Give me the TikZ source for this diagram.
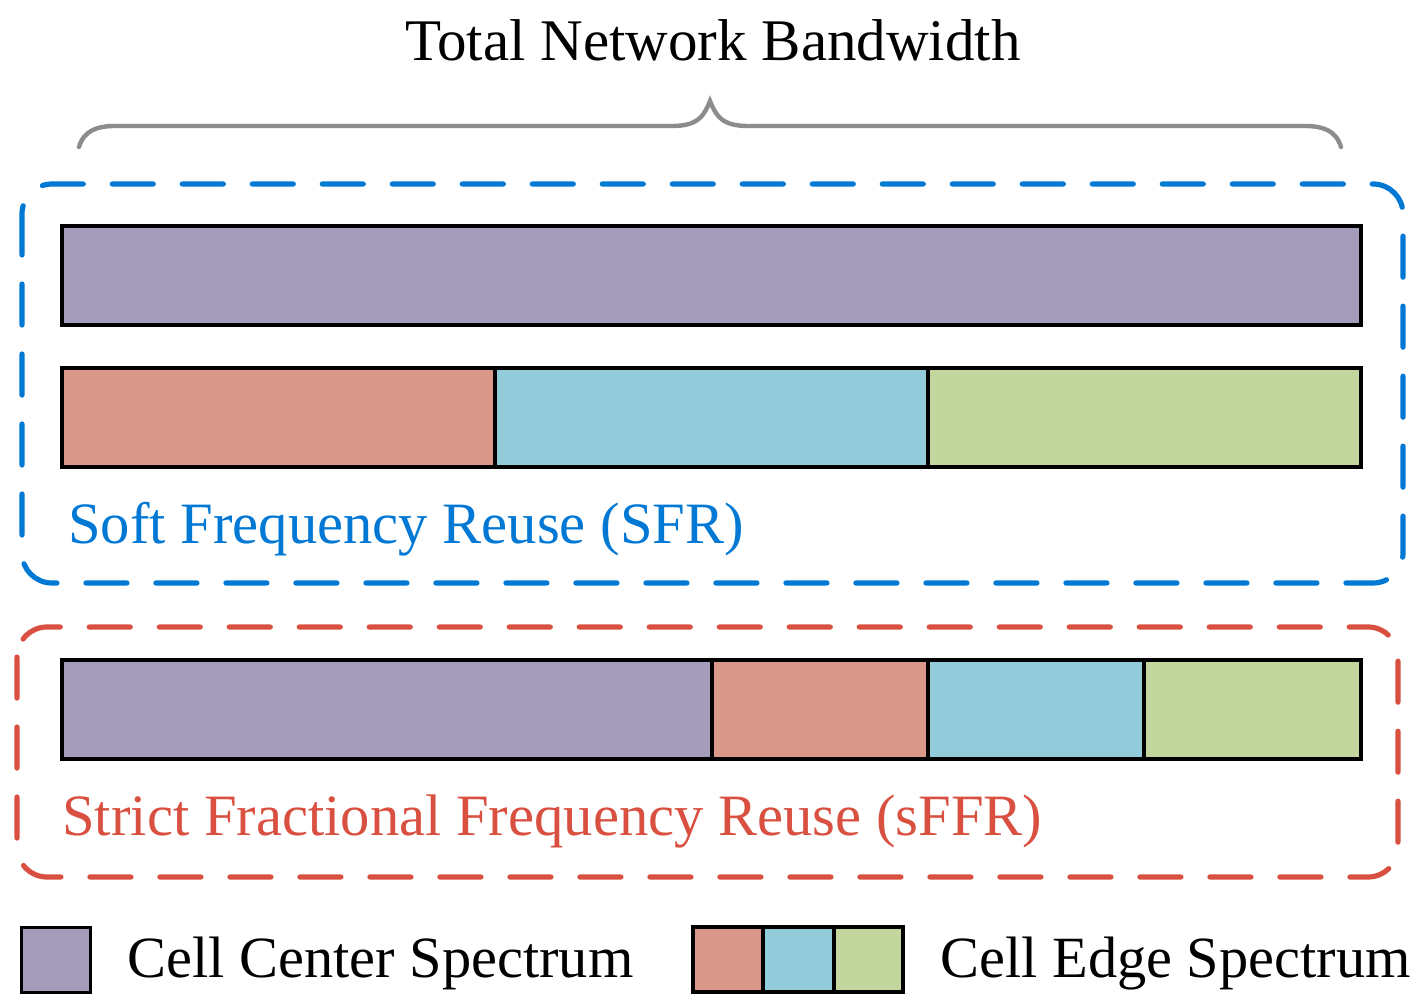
\documentclass[tikz,border=0pt]{standalone}
\usepackage{fontspec}
\setmainfont{Liberation Serif}
\definecolor{cpurple}{HTML}{A59BBB}
\definecolor{csalmon}{HTML}{D9988A}
\definecolor{ccyan}{HTML}{92CBDA}
\definecolor{cgreen}{HTML}{C2D69E}
\definecolor{cblue}{HTML}{0078D4}
\definecolor{cred}{HTML}{D95040}
\definecolor{cbrace}{HTML}{8A8C8E}
\begin{document}
\begin{tikzpicture}[x=0.5pt,y=-0.5pt,
  seg/.style={draw=black,line width=2.2pt,line join=miter},
  lseg/.style={draw=black,line width=1.6pt,line join=miter},
  dashbox/.style={line width=2.6pt,line cap=round,dash pattern=on 20.5pt off 14.5pt,rounded corners=15pt},
  lbl/.style={inner sep=0pt,anchor=base west}]
\useasboundingbox[fill=white] (0,0) rectangle (1419,1001);
% brace
\draw[cbrace,line width=2.2pt,line cap=round] (79,147) .. controls (84,130) and (98,126) .. (115,126) -- (672,126) .. controls (698,126) and (704,116) .. (710,101) .. controls (716,116) and (722,126) .. (748,126) -- (1305,126) .. controls (1322,126) and (1336,130) .. (1341,147);
\node[lbl] (title) at (405,60) {\fontsize{29.5pt}{29pt}\selectfont Total Network Bandwidth};
% SFR box
\draw[cblue,dashbox] (22,184) rectangle (1403,583);
\draw[seg,fill=cpurple] (62,226) rectangle (1361,325);
\draw[seg,fill=csalmon] (62,368) rectangle (495,467);
\draw[seg,fill=ccyan] (495,368) rectangle (928,467);
\draw[seg,fill=cgreen] (928,368) rectangle (1361,467);
\node[lbl,text=cblue] (sfr) at (68,543) {\fontsize{29.3pt}{29pt}\selectfont Soft Frequency Reuse (SFR)};
% sFFR box
\draw[cred,dashbox] (17,627) rectangle (1398,877);
\draw[seg,fill=cpurple] (62,660) rectangle (712,759);
\draw[seg,fill=csalmon] (712,660) rectangle (928,759);
\draw[seg,fill=ccyan] (928,660) rectangle (1144,759);
\draw[seg,fill=cgreen] (1144,660) rectangle (1361,759);
\node[lbl,text=cred] (sffr) at (62,835) {\fontsize{29.3pt}{29pt}\selectfont Strict Fractional Frequency Reuse (sFFR)};
% legend
\draw[lseg,fill=cpurple] (21.5,927.5) rectangle (90.5,992.5);
\node[lbl] (lcenter) at (127,977) {\fontsize{29.2pt}{29pt}\selectfont Cell Center Spectrum};
\draw[lseg,fill=csalmon] (693,927) rectangle (763,992);
\draw[lseg,fill=ccyan] (763,927) rectangle (834,992);
\draw[lseg,fill=cgreen] (834,927) rectangle (903,992);
\node[lbl] (ledge) at (940,977) {\fontsize{29.2pt}{29pt}\selectfont Cell Edge Spectrum};
\end{tikzpicture}
\end{document}
